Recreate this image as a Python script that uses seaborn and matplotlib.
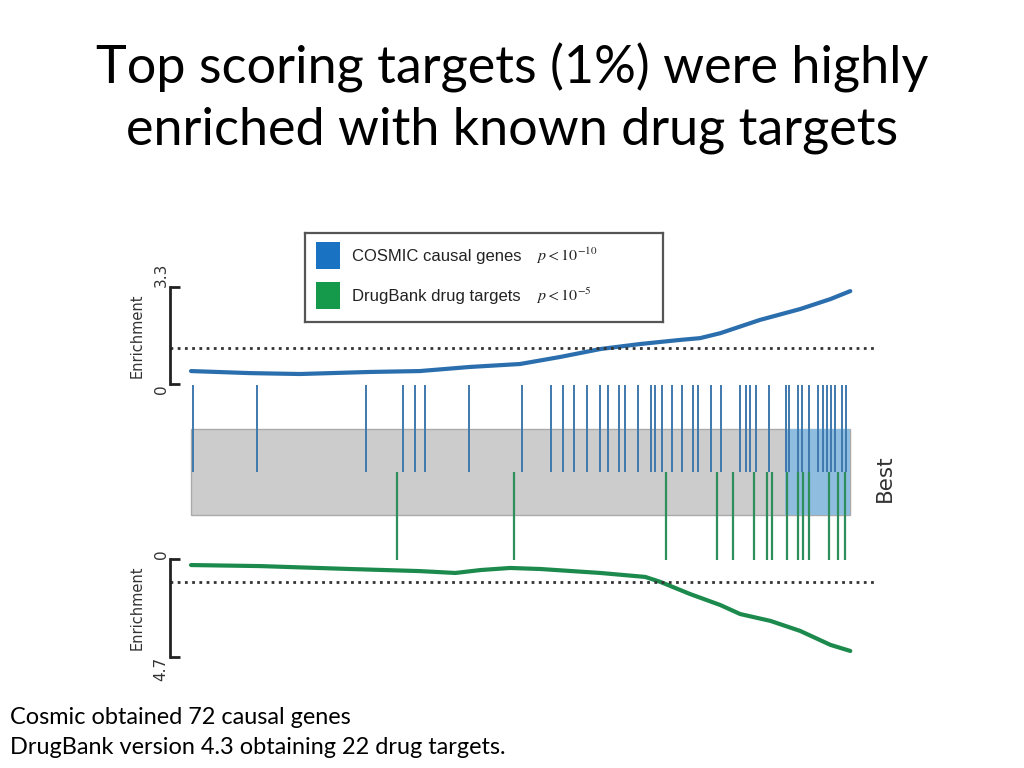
import numpy as np
import pandas as pd
import matplotlib
matplotlib.use("Agg")
import matplotlib.pyplot as plt
from matplotlib.patches import Rectangle
import seaborn as sns

sns.set_theme(style="white")
plt.rcParams['font.family'] = ['Lato', 'DejaVu Sans']
plt.rcParams['mathtext.fontset'] = 'stix'

# ---------------- data (rank percentile 0..100, "Best" on the right) ----------------
cosmic_rank = [0, 9, 16.5, 27.2, 34.7, 42.3, 49.9, 56, 62.1, 68.1, 74.2, 77.2, 80.3, 86.3, 92.4, 97, 100]
cosmic_enrich = [0.44, 0.37, 0.34, 0.41, 0.44, 0.58, 0.68, 0.92, 1.19, 1.36, 1.50, 1.56, 1.73, 2.18, 2.55, 2.89, 3.16]

drug_rank = [0, 10.5, 24.1, 34.7, 40.1, 43.9, 48.4, 53, 62.1, 68.9, 71.2, 75.7, 80.3, 83.3, 87.9, 92.4, 97, 100]
drug_enrich = [0.29, 0.34, 0.48, 0.58, 0.67, 0.53, 0.43, 0.48, 0.67, 0.86, 1.10, 1.68, 2.21, 2.64, 2.97, 3.45, 4.12, 4.41]

cosmic_hits = [0.3, 10.0, 26.6, 32.2, 34.0, 35.5, 42.2, 50.2, 54.6, 56.4, 58.1, 60.1, 62.1, 63.3,
               64.9, 65.9, 67.8, 69.8, 70.4, 71.4, 72.9, 74.4, 76.2, 76.9, 78.9, 80.4, 83.2, 84.2,
               84.8, 85.7, 87.6, 90.3, 90.7, 92.1, 92.7, 93.8, 95.1, 95.9, 96.4, 97.1, 97.7, 98.8, 99.4]
drug_hits = [31.3, 49.0, 72.1, 79.8, 82.2, 85.4, 87.3, 88.2, 90.4, 92.1, 92.9, 93.8, 96.8, 98.2, 99.2]

top_pct_start = 90.1
cosmic_ref = 1.22
drug_ref = 1.08
cosmic_max = 3.3
drug_max = 4.7

title = "Top scoring targets (1%) were highly\nenriched with known drug targets"
legend_labels = ["COSMIC causal genes", "DrugBank drug targets"]
legend_pvals = [r"$p<10^{-10}$", r"$p<10^{-5}$"]
footnote = ["Cosmic obtained 72 causal genes", "DrugBank version 4.3 obtaining 22 drug targets."]

BLUE = "#2a6eae"
GREEN = "#1c8a4c"
BLUE_TICK = "#3f79ad"
GREEN_TICK = "#2f8f5c"
DARK = "#333333"

W, H = 1024, 768
fig = plt.figure(figsize=(W / 100, H / 100), dpi=100)


def px_axes(left, top, right, bottom):
    return fig.add_axes([left / W, 1 - bottom / H, (right - left) / W, (bottom - top) / H])


XLIM = (-3.19, 103.9)

# ---------------- top enrichment (COSMIC) ----------------
ax1 = px_axes(170, 287, 876, 384)
sns.lineplot(x=cosmic_rank, y=cosmic_enrich, ax=ax1, color=BLUE, lw=3.0, clip_on=False)
ax1.axhline(cosmic_ref, ls=(0, (1, 1.6)), lw=2, color=DARK)
ax1.set_xlim(*XLIM)
ax1.set_ylim(0, cosmic_max)

# ---------------- bottom enrichment (DrugBank) ----------------
ax3 = px_axes(170, 559, 876, 657)
sns.lineplot(x=drug_rank, y=drug_enrich, ax=ax3, color=GREEN, lw=3.0, clip_on=False)
ax3.axhline(drug_ref, ls=(0, (1, 1.6)), lw=2, color=DARK)
ax3.set_xlim(*XLIM)
ax3.set_ylim(drug_max, 0)

for ax, lo, hi, top_lab in [(ax1, 0, cosmic_max, "3.3"), (ax3, 0, drug_max, "4.7")]:
    for s in ["top", "right", "bottom"]:
        ax.spines[s].set_visible(False)
    ax.spines["left"].set_visible(True)
    ax.spines["left"].set_bounds(lo, hi)
    ax.spines["left"].set_linewidth(2)
    ax.spines["left"].set_color("#222222")
    ax.set_xticks([])
    ax.set_yticks([lo, hi])
    ax.set_yticklabels(["0", top_lab])
    ax.tick_params(axis="y", direction="in", length=7, width=2, color="#222222",
                   labelsize=11, labelcolor=DARK, pad=1, left=True)
    for lab in ax.get_yticklabels():
        lab.set_rotation(90)
        lab.set_family("DejaVu Sans")
    ax.set_ylabel("Enrichment", fontsize=10.5, color=DARK, family="DejaVu Sans")
    ax.yaxis.set_label_coords(-0.036, 0.5)
    ax.set_xlabel("")
    ax.set_facecolor("none")

labs1 = ax1.get_yticklabels()
labs1[0].set_va("top")
labs1[1].set_va("bottom")
labs3 = ax3.get_yticklabels()
labs3[0].set_va("bottom")
labs3[1].set_va("top")

# ---------------- middle: hit positions ----------------
ax2 = px_axes(170, 384, 876, 560)
ax2.set_xlim(*XLIM)
ax2.set_ylim(0, 2)
ax2.axis("off")
ax2.add_patch(Rectangle((0, 0.51), 100, 0.98, facecolor="#cccccc", edgecolor="#aaaaaa", lw=1, zorder=1))
ax2.add_patch(Rectangle((top_pct_start, 0.51), 100 - top_pct_start, 0.98, facecolor="#8fbddf",
                        edgecolor="none", zorder=2))
ax2.vlines(cosmic_hits, 1.0, 1.99, color=BLUE_TICK, lw=1.4, zorder=3)
ax2.vlines(drug_hits, 0.0, 1.0, color=GREEN_TICK, lw=1.6, zorder=3)

fig.text(885 / W, 1 - 478 / H, "Best", rotation=90, ha="center", va="center",
         fontsize=15.5, color=DARK, family="DejaVu Sans")

# ---------------- legend box ----------------
axl = px_axes(305, 233, 663, 322)
axl.set_xlim(0, 358)
axl.set_ylim(89, 0)
axl.set_xticks([])
axl.set_yticks([])
for s in axl.spines.values():
    s.set_visible(True)
    s.set_color("#555555")
    s.set_linewidth(1.6)
axl.set_facecolor("white")
for i, (lab, pv, col) in enumerate(zip(legend_labels, legend_pvals, ["#1a73c2", "#149a4a"])):
    yc = 22 + i * 40
    axl.add_patch(Rectangle((11, yc - 13), 24, 27, facecolor=col, edgecolor="none"))
    axl.text(47, yc + 2, lab, va="center", ha="left", fontsize=12, color="#222222", family="Liberation Sans")
    axl.text(231, yc + 1, pv, va="center", ha="left", fontsize=11.5, color="#222222")

# ---------------- title and footnote ----------------
fig.text(0.5, 1 - 98 / H, title, ha="center", va="center", fontsize=37.5, color="black",
         linespacing=1.36)
fig.text(10 / W, 1 - 717 / H, footnote[0], ha="left", va="center", fontsize=16.9, color="black")
fig.text(10 / W, 1 - 747 / H, footnote[1], ha="left", va="center", fontsize=16.9, color="black")

fig.savefig("out.png", dpi=100, facecolor="white")
